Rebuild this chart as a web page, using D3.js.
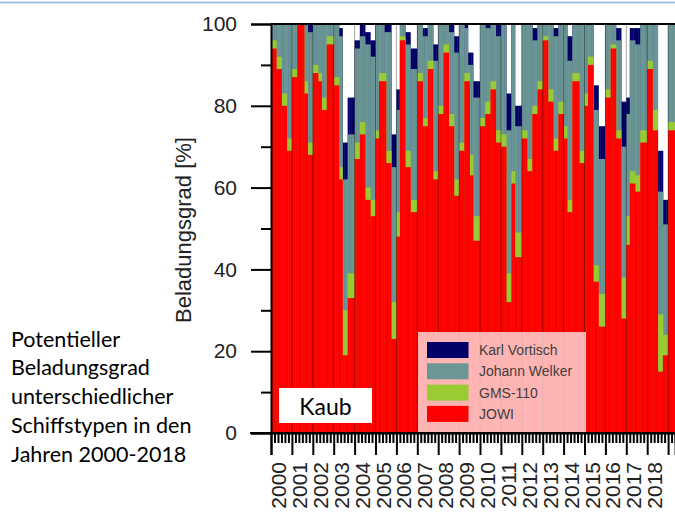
<!DOCTYPE html>
<html>
<head>
<meta charset="utf-8">
<script src="https://cdn.jsdelivr.net/npm/d3@7"></script>
<style>
html, body { margin: 0; padding: 0; background: #fff; }
svg { display: block; }
</style>
</head>
<body>
<svg id="chart" width="675" height="513"></svg>
<script>
// ---- data (monthly, Jan 2000 .. Apr 2019), loading degree in %
var years = [2000, 2001, 2002, 2003, 2004, 2005, 2006, 2007, 2008, 2009,
    2010, 2011, 2012, 2013, 2014, 2015, 2016, 2017, 2018];
var yTicks = [0, 20, 40, 60, 80, 100];
var seriesNames = ["Karl Vortisch", "Johann Welker", "GMS-110", "JOWI"];
var seriesColors = ["#000066", "#6b9696", "#99cc33", "#ff0000"];
var stationName = "Kaub";
var sideText = ["Potentieller", "Beladungsgrad", "unterschiedlicher", "Schiffstypen in den", "Jahren 2000-2018"];

var jowi = [
    94, 94, 94, 89, 89, 89, 80, 80, 80, 69, 69, 69,
    87, 87, 87, 100, 100, 100, 100, 83, 83, 68, 68, 68,
    88, 88, 88, 86, 86, 79, 79, 79, 95, 95, 95, 95,
    85, 85, 85, 62, 62, 19, 19, 19, 33, 33, 33, 33,
    67, 67, 67, 73, 73, 73, 57, 57, 57, 53, 53, 53,
    72, 72, 86, 86, 86, 86, 66, 66, 66, 23, 23, 23,
    48, 48, 96, 96, 96, 65, 65, 65, 54, 54, 54, 54,
    86, 86, 86, 75, 75, 75, 89, 89, 89, 62, 62, 62,
    78, 78, 78, 93, 93, 93, 75, 75, 75, 58, 58, 58,
    69, 69, 69, 86, 86, 86, 63, 63, 47, 47, 47, 47,
    75, 75, 75, 78, 78, 78, 84, 84, 84, 71, 71, 71,
    70, 70, 70, 32, 32, 32, 61, 61, 43, 43, 43, 43,
    72, 72, 72, 64, 64, 64, 78, 78, 78, 84, 84, 84,
    96, 96, 96, 81, 81, 81, 69, 69, 69, 78, 78, 78,
    72, 72, 54, 54, 54, 86, 86, 86, 86, 66, 66, 66,
    80, 80, 90, 90, 90, 37, 37, 37, 26, 26, 26, 26,
    82, 82, 82, 94, 94, 94, 72, 72, 72, 28, 28, 28,
    46, 46, 61, 61, 61, 59, 59, 59, 71, 71, 71, 71,
    89, 89, 89, 74, 74, 74, 15, 15, 15, 19, 19, 19,
    74, 74, 74, 74
];
var gms110 = [
    96, 96, 96, 92, 92, 92, 83, 83, 83, 72, 72, 72,
    89, 89, 89, 100, 100, 100, 100, 86, 86, 71, 71, 71,
    90, 90, 90, 88, 88, 82, 82, 82, 97, 97, 97, 97,
    87, 87, 87, 65, 65, 30, 30, 30, 39, 39, 39, 39,
    71, 71, 71, 76, 76, 76, 60, 60, 60, 57, 57, 57,
    74, 74, 88, 88, 88, 88, 69, 69, 69, 32, 32, 32,
    54, 54, 97, 97, 97, 69, 69, 69, 57, 57, 57, 57,
    88, 88, 88, 77, 77, 77, 91, 91, 91, 64, 64, 64,
    80, 80, 80, 95, 95, 95, 78, 78, 78, 62, 62, 62,
    71, 71, 71, 88, 88, 88, 68, 68, 53, 53, 53, 53,
    77, 77, 77, 81, 81, 81, 86, 86, 86, 74, 74, 74,
    73, 73, 73, 39, 39, 39, 64, 64, 49, 49, 49, 49,
    74, 74, 74, 67, 67, 67, 80, 80, 80, 86, 86, 86,
    97, 97, 97, 84, 84, 84, 72, 72, 72, 81, 81, 81,
    75, 75, 57, 57, 57, 88, 88, 88, 88, 69, 69, 69,
    83, 83, 92, 92, 92, 41, 41, 41, 34, 34, 34, 34,
    84, 84, 84, 95, 95, 95, 74, 74, 74, 38, 38, 38,
    53, 53, 64, 64, 64, 63, 63, 63, 74, 74, 74, 74,
    91, 91, 91, 79, 79, 79, 29, 29, 29, 24, 24, 24,
    76, 76, 76, 76
];
var welker = [
    100, 100, 100, 100, 100, 100, 100, 100, 100, 100, 100, 100,
    100, 100, 100, 100, 100, 100, 100, 100, 100, 98, 98, 98,
    100, 100, 100, 100, 100, 100, 100, 100, 100, 100, 100, 100,
    100, 100, 100, 97, 97, 62, 62, 62, 73, 73, 73, 73,
    94, 94, 94, 97, 97, 97, 95, 95, 95, 92, 92, 92,
    100, 100, 100, 100, 100, 98, 98, 98, 98, 65, 65, 65,
    79, 79, 100, 100, 100, 95, 95, 95, 89, 89, 89, 89,
    100, 100, 100, 97, 97, 97, 100, 100, 100, 91, 91, 91,
    100, 100, 100, 100, 100, 100, 98, 98, 98, 93, 93, 93,
    100, 100, 100, 99, 99, 90, 90, 90, 82, 82, 82, 82,
    100, 100, 100, 99, 99, 99, 100, 100, 100, 97, 97, 97,
    100, 100, 100, 74, 74, 74, 100, 100, 75, 75, 75, 75,
    100, 100, 100, 100, 100, 100, 96, 96, 96, 100, 100, 100,
    100, 100, 100, 100, 100, 100, 97, 97, 97, 100, 100, 100,
    100, 100, 91, 91, 91, 100, 100, 100, 100, 100, 100, 100,
    100, 100, 100, 100, 100, 79, 79, 79, 67, 67, 67, 67,
    100, 100, 100, 100, 100, 100, 96, 96, 96, 70, 70, 70,
    78, 78, 96, 96, 96, 95, 95, 95, 100, 100, 100, 100,
    100, 100, 100, 100, 100, 100, 59, 59, 59, 51, 51, 51,
    100, 100, 100, 100
];
var vortisch = [
    100, 100, 100, 100, 100, 100, 100, 100, 100, 100, 100, 100,
    100, 100, 100, 100, 100, 100, 100, 100, 100, 100, 100, 100,
    100, 100, 100, 100, 100, 100, 100, 100, 100, 100, 100, 100,
    100, 100, 100, 99, 99, 71, 71, 71, 82, 82, 82, 82,
    96, 96, 96, 100, 100, 100, 98, 98, 98, 96, 96, 96,
    100, 100, 100, 100, 100, 100, 100, 100, 100, 73, 73, 73,
    84, 84, 100, 100, 100, 98, 98, 98, 94, 94, 94, 94,
    100, 100, 100, 99, 99, 99, 100, 100, 100, 95, 95, 95,
    100, 100, 100, 100, 100, 100, 100, 100, 100, 97, 97, 97,
    100, 100, 100, 100, 100, 93, 93, 93, 86, 86, 86, 86,
    100, 100, 100, 100, 100, 100, 100, 100, 100, 100, 100, 100,
    100, 100, 100, 83, 83, 83, 100, 100, 80, 80, 80, 80,
    100, 100, 100, 100, 100, 100, 99, 99, 99, 100, 100, 100,
    100, 100, 100, 100, 100, 100, 99, 99, 99, 100, 100, 100,
    100, 100, 97, 97, 97, 100, 100, 100, 100, 100, 100, 100,
    100, 100, 100, 100, 100, 85, 85, 85, 75, 75, 75, 75,
    100, 100, 100, 100, 100, 100, 99, 99, 99, 81, 81, 81,
    82, 82, 99, 99, 99, 99, 99, 99, 100, 100, 100, 100,
    100, 100, 100, 100, 100, 100, 69, 69, 69, 57, 57, 57,
    100, 100, 100, 100
];

// ---- layout
var svg = d3.select("#chart");
var yearW = 20.9;
var plotLeft = 271, plotTop = 24, plotBottom = 433;
var nMonths = jowi.length;
var tEnd = 2000 + nMonths / 12;

var x = d3.scaleLinear().domain([2000, tEnd]).range([plotLeft, plotLeft + yearW * (tEnd - 2000)]);
var y = d3.scaleLinear().domain([0, 100]).range([plotBottom, plotTop]);

// top slide border
svg.append("line")
    .attr("x1", 0).attr("x2", 675).attr("y1", 2.5).attr("y2", 2.5)
    .style("stroke", "#a8bedb").style("stroke-width", 2);

var months = d3.range(nMonths).map(function (i) {
    return { t: 2000 + i / 12, values: [vortisch[i], welker[i], gms110[i], jowi[i]] };
});

// bars: each ship drawn from 0, biggest value behind
var bars = svg.append("g");
seriesNames.forEach(function (name, s) {
    bars.append("g")
        .attr("class", "series")
        .selectAll("rect")
        .data(months).enter().append("rect")
        .attr("x", function (d) { return x(d.t); })
        .attr("width", function (d) { return x(d.t + 1 / 12) - x(d.t) + 0.4; })
        .attr("y", function (d) { return y(d.values[s]); })
        .attr("height", function (d) { return y(0) - y(d.values[s]); })
        .style("fill", seriesColors[s]);
});

// year dividers
svg.append("g").selectAll("line")
    .data(years.slice(1).concat([2019])).enter().append("line")
    .attr("x1", function (d) { return x(d); }).attr("x2", function (d) { return x(d); })
    .attr("y1", y(100)).attr("y2", y(0))
    .style("stroke", "#000").style("stroke-opacity", 0.35).style("stroke-width", 1);

// station label
svg.append("rect")
    .attr("x", 279).attr("y", 388).attr("width", 93).attr("height", 35)
    .style("fill", "#fff");
svg.append("text")
    .attr("x", 325.5).attr("y", 414.5)
    .attr("text-anchor", "middle")
    .style("font", "23px Lato, sans-serif").style("fill", "#000")
    .text(stationName);

// legend
var legend = svg.append("g").attr("transform", "translate(418, 332)");
legend.append("rect")
    .attr("width", 168).attr("height", plotBottom - 332)
    .style("fill", "#fff").style("fill-opacity", 0.7);
var legendItems = legend.selectAll(".legend")
    .data(seriesNames).enter().append("g")
    .attr("class", "legend")
    .attr("transform", function (d, i) { return "translate(9," + (10 + i * 21.3) + ")"; });
legendItems.append("rect")
    .attr("width", 41.5).attr("height", 16)
    .style("fill", function (d, i) { return seriesColors[i]; });
legendItems.append("text")
    .attr("x", 52).attr("y", 8).attr("dy", "0.36em")
    .style("font", "14px 'Liberation Sans', Arial, sans-serif").style("fill", "#404040")
    .text(function (d) { return d; });

// frame top
svg.append("line")
    .attr("x1", plotLeft).attr("x2", 680).attr("y1", plotTop).attr("y2", plotTop)
    .style("stroke", "#000").style("stroke-width", 2);

// y axis
var yAxis = svg.append("g")
    .attr("transform", "translate(" + plotLeft + ",0)")
    .call(d3.axisLeft(y).tickValues(yTicks).tickSize(20).tickPadding(14));
svg.append("g")
    .attr("transform", "translate(" + plotLeft + ",0)")
    .call(d3.axisLeft(y).tickValues([10, 30, 50, 70, 90]).tickSize(10).tickFormat(""))
    .select(".domain").remove();
yAxis.selectAll("text")
    .style("font", "21px 'Liberation Sans', Arial, sans-serif").style("fill", "#222");

// x axis
var xAxis = svg.append("g")
    .attr("transform", "translate(0," + plotBottom + ")")
    .call(d3.axisBottom(x).tickValues(years.concat([2019])).tickSize(22).tickFormat(""));
var minor = d3.range(nMonths + 1).filter(function (i) { return i % 12 != 0 && i % 2 == 0; })
    .map(function (i) { return 2000 + i / 12; });
svg.append("g")
    .attr("transform", "translate(0," + plotBottom + ")")
    .call(d3.axisBottom(x).tickValues(minor).tickSize(10).tickFormat(""))
    .select(".domain").remove();
svg.append("line")
    .attr("x1", 250).attr("x2", 680).attr("y1", plotBottom).attr("y2", plotBottom)
    .style("stroke", "#000").style("stroke-width", 2);
svg.selectAll(".tick line").style("stroke", "#000").style("stroke-width", 2);
svg.selectAll(".domain").style("stroke", "#000").style("stroke-width", 2);

// year labels
svg.append("g").selectAll("text")
    .data(years).enter().append("text")
    .attr("transform", function (d) {
        return "translate(" + (x(d + 0.5) - 3) + ",462) rotate(-90)";
    })
    .attr("text-anchor", "end")
    .attr("dy", "0.36em")
    .style("font", "21px 'Liberation Sans', Arial, sans-serif").style("fill", "#222")
    .text(function (d) { return d; });

// y title
svg.append("text")
    .attr("transform", "translate(191,230) rotate(-90)")
    .attr("text-anchor", "middle")
    .style("font", "22px 'Liberation Sans', Arial, sans-serif").style("fill", "#222")
    .text("Beladungsgrad [%]");

// side note
svg.append("g").selectAll("text")
    .data(sideText).enter().append("text")
    .attr("x", 11)
    .attr("y", function (d, i) { return 346.7 + i * 28.7; })
    .style("font", "21.5px Lato, sans-serif").style("fill", "#000")
    .text(function (d) { return d; });
</script>
</body>
</html>
